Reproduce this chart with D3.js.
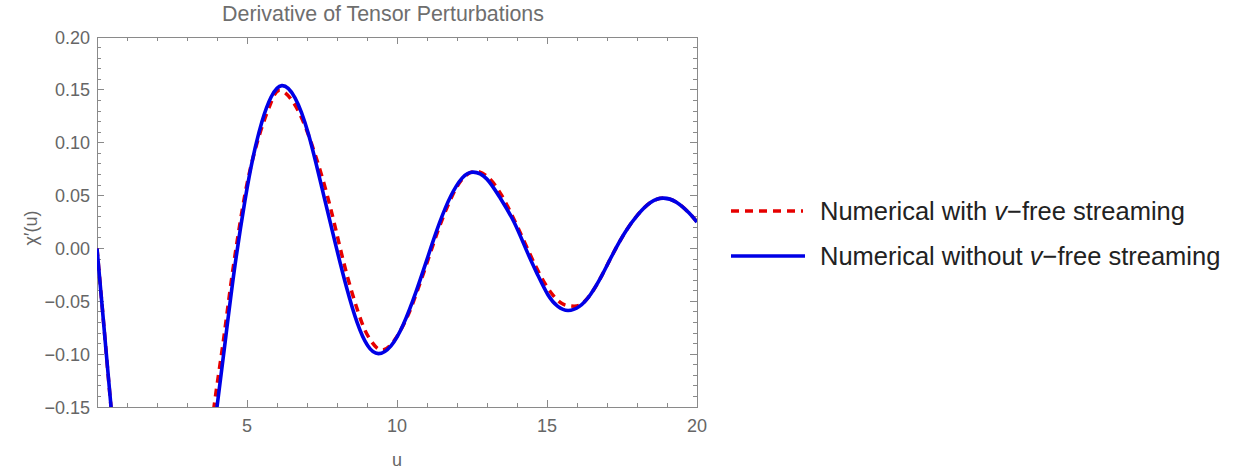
<!DOCTYPE html>
<html>
<head>
<meta charset="utf-8">
<script src="https://cdn.jsdelivr.net/npm/d3@7"></script>
<style>
  body { margin: 0; background: #fff; }
  svg { display: block; font-family: "Liberation Sans", Arial, sans-serif; }
</style>
</head>
<body>
<svg id="chart" width="1248" height="471"></svg>
<script>
// values (below -0.15 the curves leave the frame, those points are guesses)
var uNoFs = [0, 0.25, 0.5, 1.0, 1.5, 2.0, 2.5, 3.0, 3.5, 4.0, 4.3, 4.6, 4.93, 5.2, 5.5, 5.8, 6.16, 6.6, 7.05, 7.5, 7.95, 8.31, 8.67, 9.02, 9.38, 9.8, 10.21, 10.63, 11.04, 11.42, 11.79, 12.17, 12.54, 12.99, 13.45, 13.9, 14.35, 14.69, 15.03, 15.36, 15.7, 16.08, 16.45, 16.83, 17.2, 17.62, 18.03, 18.45, 18.87, 19.3, 19.73, 20.0];
var chiNoFs = [0, -0.08, -0.16, -0.30, -0.40, -0.44, -0.42, -0.36, -0.26, -0.150, -0.082, -0.016, 0.045, 0.086, 0.120, 0.143, 0.154, 0.1425, 0.108, 0.057, 0.004, -0.036, -0.070, -0.0919, -0.0995, -0.0921, -0.0719, -0.0413, -0.0069, 0.0243, 0.0493, 0.0665, 0.0722, 0.0658, 0.0472, 0.025, -0.004, -0.025, -0.0438, -0.0548, -0.0587, -0.0548, -0.0435, -0.0255, -0.005, 0.016, 0.032, 0.0435, 0.0476, 0.044, 0.0337, 0.0249];

var uFs = [0, 0.25, 0.5, 1.0, 1.5, 2.0, 2.5, 3.0, 3.5, 3.9, 4.2, 4.5, 4.85, 5.15, 5.5, 5.8, 6.07, 6.5, 7.0, 7.6, 8.05, 8.4, 8.8, 9.1, 9.45, 9.85, 10.3, 10.7, 11.1, 11.45, 11.85, 12.2, 12.6, 13.05, 13.5, 14.0, 14.45, 14.8, 15.15, 15.5, 15.8, 16.1, 16.45, 16.83, 17.2, 17.62, 18.03, 18.45, 18.87, 19.3, 19.73, 20.0];
var chiFs = [0, -0.08, -0.16, -0.30, -0.40, -0.44, -0.42, -0.36, -0.245, -0.150, -0.090, -0.026, 0.038, 0.080, 0.115, 0.138, 0.1495, 0.140, 0.111, 0.058, 0.007, -0.032, -0.068, -0.086, -0.096, -0.0893, -0.0674, -0.0384, -0.0052, 0.0233, 0.0503, 0.0663, 0.073, 0.0669, 0.0496, 0.0215, -0.0065, -0.0266, -0.0424, -0.0522, -0.0545, -0.0535, -0.0435, -0.0255, -0.005, 0.016, 0.032, 0.0435, 0.0476, 0.044, 0.0337, 0.0249];

var xTicks = [5, 10, 15, 20];
var yTicks = [0.20, 0.15, 0.10, 0.05, 0.00, -0.05, -0.10, -0.15];
var legendLabels = ["Numerical with ", "Numerical without "];

var svg = d3.select("#chart");
var plotL = 97, plotR = 697, plotT = 37, plotB = 407;
var x = d3.scaleLinear().domain([0, 20]).range([plotL, plotR]);
var y = d3.scaleLinear().domain([-0.15, 0.20]).range([plotB, plotT]);
var grey = "#8a8a8a";
var labelColor = "#666";

svg.append("defs").append("clipPath").attr("id", "plot")
  .append("rect").attr("x", plotL).attr("y", plotT)
  .attr("width", plotR - plotL).attr("height", plotB - plotT);

// frame + inner ticks on all sides
var minorX = d3.range(1, 20);
var minorY = d3.range(-14, 20).map(function (d) { return d / 100; });
var ticks = svg.append("g").attr("stroke", grey).attr("stroke-width", 1).attr("shape-rendering", "crispEdges");
minorX.forEach(function (t) {
  var len = (t % 5 === 0) ? 7 : 4;
  ticks.append("line").attr("x1", x(t)).attr("x2", x(t)).attr("y1", plotB).attr("y2", plotB - len);
  ticks.append("line").attr("x1", x(t)).attr("x2", x(t)).attr("y1", plotT).attr("y2", plotT + len);
});
minorY.forEach(function (t) {
  var major = Math.abs(Math.round(t * 100) % 5) === 0;
  var len = major ? 7 : 4;
  ticks.append("line").attr("x1", plotL).attr("x2", plotL + len).attr("y1", y(t)).attr("y2", y(t));
  ticks.append("line").attr("x1", plotR).attr("x2", plotR - len).attr("y1", y(t)).attr("y2", y(t));
});
ticks.append("rect").attr("x", plotL).attr("y", plotT).attr("width", plotR - plotL).attr("height", plotB - plotT)
  .attr("fill", "none");

svg.append("g").selectAll("text").data(xTicks).join("text")
  .attr("x", function (d) { return x(d); }).attr("y", plotB + 25)
  .attr("text-anchor", "middle").attr("fill", labelColor).style("font-size", "18px")
  .text(function (d) { return d; });

svg.append("g").selectAll("text").data(yTicks).join("text")
  .attr("x", plotL - 7).attr("y", function (d) { return y(d) + 6.5; })
  .attr("text-anchor", "end").attr("fill", labelColor).style("font-size", "18px")
  .text(function (d) { return d3.format(".2f")(d).replace("-", "\u2212"); });

svg.append("text").attr("x", 383).attr("y", 21).attr("text-anchor", "middle")
  .attr("fill", "#6e6e6e").style("font-size", "21.4px").text("Derivative of Tensor Perturbations");

svg.append("text").attr("x", x(10)).attr("y", 466).attr("text-anchor", "middle")
  .attr("fill", labelColor).style("font-size", "18px").text("u");

svg.append("text").attr("transform", "translate(37,228) rotate(-90)").attr("text-anchor", "middle")
  .attr("fill", labelColor).style("font-size", "18px").text("\u03c7\u2032(u)");

// curves
var line = d3.line().curve(d3.curveNatural)
  .x(function (d) { return x(d[0]); }).y(function (d) { return y(d[1]); });
var curves = svg.append("g").attr("clip-path", "url(#plot)");
curves.append("path").datum(d3.zip(uFs, chiFs)).attr("d", line)
  .attr("fill", "none").attr("stroke", "#e60000").attr("stroke-width", 3.5).attr("stroke-dasharray", "8,6");
curves.append("path").datum(d3.zip(uNoFs, chiNoFs)).attr("d", line)
  .attr("fill", "none").attr("stroke", "#0000e6").attr("stroke-width", 3.6);

// legend
var leg = svg.append("g");
leg.append("line").attr("x1", 731).attr("x2", 803).attr("y1", 211).attr("y2", 211)
  .attr("stroke", "#e60000").attr("stroke-width", 3.5).attr("stroke-dasharray", "8,6");
leg.append("line").attr("x1", 731).attr("x2", 805).attr("y1", 256).attr("y2", 256)
  .attr("stroke", "#0000e6").attr("stroke-width", 3.6);
[211, 256].forEach(function (cy, i) {
  var t = leg.append("text").attr("x", 820).attr("y", cy + 9).attr("fill", "#222").style("font-size", "25.5px");
  t.append("tspan").text(legendLabels[i]);
  t.append("tspan").style("font-style", "italic").text("v");
  t.append("tspan").text("\u2212free streaming");
});
</script>
</body>
</html>
